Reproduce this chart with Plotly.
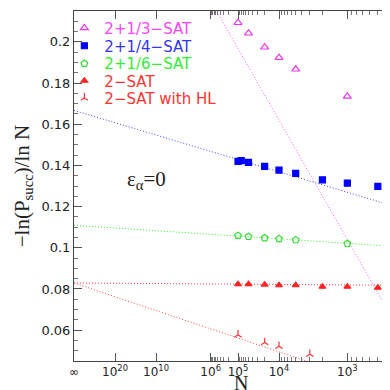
import numpy as np
import plotly.graph_objects as go

# ---------------------------------------------------------------------------
# Data; x axis is 1/ln(N)
# ---------------------------------------------------------------------------
SERIES_NAMES = ["2+1/3\u2212SAT", "2+1/4\u2212SAT", "2+1/6\u2212SAT", "2\u2212SAT", "2\u2212SAT with HL"]

N_13 = [1e5, 5e4, 2e4, 1e4, 5e3, 1e3]
Y_13 = [0.2093, 0.2042, 0.1974, 0.1923, 0.1867, 0.1735]

N_14 = [1e5, 8e4, 5e4, 2e4, 1e4, 5e3, 2e3, 1e3, 500]
Y_14 = [0.1420, 0.1423, 0.1415, 0.1395, 0.1377, 0.1361, 0.1330, 0.1314, 0.1298]

N_16 = [1e5, 5e4, 2e4, 1e4, 5e3, 1e3]
Y_16 = [0.1059, 0.1054, 0.1047, 0.1044, 0.1038, 0.1020]

N_2 = [1e5, 5e4, 2e4, 1e4, 5e3, 2e3, 1e3, 500]
Y_2 = [0.0823, 0.0823, 0.0821, 0.0818, 0.0818, 0.0811, 0.0811, 0.0806]

N_HL = [1e5, 2e4, 1e4, 3e3]
Y_HL = [0.0577, 0.0540, 0.0522, 0.0483]

# linear fits y = a + b / ln(N)
FIT_A = [0.336, 0.1667, 0.1109, 0.0829, 0.0829]
FIT_B = [-1.603, -0.2746, -0.0604, -0.0065, -0.308]

MAJOR_N = [np.inf, 1e20, 1e10, 1e6, 1e5, 1e4, 1e3]
MAJOR_TEXT = ["\u221e", "10<sup>20</sup>", "10<sup>10</sup>", "10<sup>6</sup>",
              "10<sup>5</sup>", "10<sup>4</sup>", "10<sup>3</sup>"]
MINOR_N = ([m * 1e5 for m in range(2, 10)] + [m * 1e4 for m in range(2, 10)]
           + [m * 1e3 for m in range(2, 10)] + [m * 1e2 for m in range(4, 10)])

X_RANGE = [0, 0.17]
Y_RANGE = [0.045, 0.215]

# ---------------------------------------------------------------------------
# Styling
# ---------------------------------------------------------------------------
MARKER_COLORS = ["#ee33ee", "#0000ff", "#33dd33", "#ff2222", "#ff3333"]
TEXT_COLORS = ["#ff44ff", "#3333ff", "#33ee33", "#ff3333", "#ff3333"]
LINE_COLORS = ["#ff55ff", "#4444ff", "#33ee33", "#ff4444", "#ff4444"]
SYMBOLS = ["triangle-up-open", "square", "pentagon-open", "triangle-up", "y-up-open"]
SIZES = [7, 6, 7, 6, 6]
LEGEND_ROWS = [0.951, 0.900, 0.849, 0.800, 0.751]   # paper y of each legend row


def inv_ln(n):
    return [0.0 if np.isinf(v) else 1.0 / np.log(v) for v in n]


fig = go.Figure()

# fitted lines first so markers sit on top
for a, b, col in zip(FIT_A, FIT_B, LINE_COLORS):
    xs = np.array(X_RANGE)
    fig.add_trace(go.Scatter(
        x=xs, y=a + b * xs, mode="lines",
        line=dict(color=col, width=1, dash="1px,2px"),
        showlegend=False, hoverinfo="skip",
    ))

# one legend per series so the row spacing can be set freely
legends = {}
all_n = [N_13, N_14, N_16, N_2, N_HL]
all_y = [Y_13, Y_14, Y_16, Y_2, Y_HL]
for i, (n, y) in enumerate(zip(all_n, all_y)):
    lg = "legend" if i == 0 else f"legend{i + 1}"
    fig.add_trace(go.Scatter(
        x=inv_ln(n), y=y, mode="markers", legend=lg,
        name=f'<span style="color:{TEXT_COLORS[i]}">{SERIES_NAMES[i]}</span>',
        marker=dict(symbol=SYMBOLS[i], size=SIZES[i], color=MARKER_COLORS[i],
                    line=dict(color=MARKER_COLORS[i], width=1.2)),
    ))
    legends[lg] = dict(
        x=-0.03, y=LEGEND_ROWS[i], xanchor="left", yanchor="middle",
        bgcolor="rgba(0,0,0,0)", font=dict(size=15, family="DejaVu Sans"),
        itemwidth=30,
    )

# invisible trace so the mirrored (top/right) axes get drawn with minor ticks
fig.add_trace(go.Scatter(x=[None], y=[None], xaxis="x2", yaxis="y2",
                         showlegend=False, hoverinfo="skip"))

fig.add_annotation(
    x=0.16, y=0.517, xref="paper", yref="paper",
    text="\u03b5<sub>\u03b1</sub>=0", showarrow=False,
    font=dict(size=21, color="#222", family="Liberation Serif"),
)
# x-axis title as an annotation so it sits tight under the tick labels
fig.add_annotation(
    x=0.52, y=-0.064, xref="paper", yref="paper", yanchor="middle",
    text="N", showarrow=False,
    font=dict(size=20, color="#222", family="Liberation Serif"),
)

axis_common = dict(
    showgrid=False, zeroline=False, showline=True, linecolor="#444", linewidth=1,
    ticks="inside", ticklen=8, tickcolor="#555", tickwidth=1,
    tickfont=dict(size=13, color="#222", family="DejaVu Sans"),
)
x_ticks = dict(
    range=X_RANGE, tickmode="array", tickvals=inv_ln(MAJOR_N), ticktext=MAJOR_TEXT,
    minor=dict(tickmode="array", tickvals=inv_ln(MINOR_N), ticks="inside",
               ticklen=4, tickcolor="#777", showgrid=False),
)
y_ticks = dict(
    range=Y_RANGE, tickmode="linear", tick0=0, dtick=0.02,
    minor=dict(dtick=0.005, ticks="inside", ticklen=4, tickcolor="#777", showgrid=False),
)

fig.update_layout(
    width=390, height=390,
    margin=dict(l=66, r=3, t=3, b=37),
    plot_bgcolor="white", paper_bgcolor="white",
    xaxis=dict(
        **x_ticks, **dict(axis_common, tickfont=dict(size=12, color="#222", family="DejaVu Sans")),
    ),
    yaxis=dict(
        title=dict(text="\u2212ln(P<sub>succ</sub>)/ln N",
                   font=dict(size=21, family="Liberation Serif", color="#222"), standoff=6),
        **y_ticks, **axis_common,
    ),
    xaxis2=dict(overlaying="x", side="top", showticklabels=False, **x_ticks, **axis_common),
    yaxis2=dict(overlaying="y", side="right", showticklabels=False, **y_ticks, **axis_common),
    **legends,
)

fig.write_html("out.html")
